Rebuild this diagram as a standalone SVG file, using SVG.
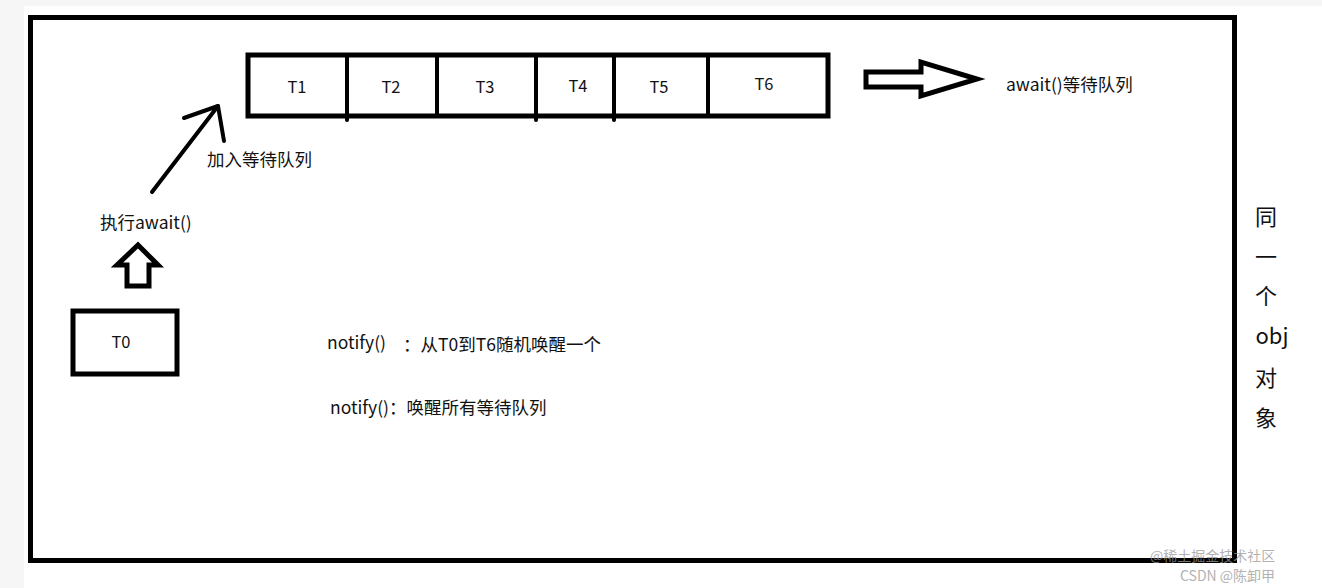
<svg xmlns="http://www.w3.org/2000/svg" width="1322" height="588" viewBox="0 0 1322 588">
<style>
.box{fill:#fff;stroke:#000;stroke-width:5}
.ln{fill:none;stroke:#000;stroke-width:4;stroke-linecap:round;stroke-linejoin:round}
.hollow{fill:#fff;stroke:#000;stroke-width:5;stroke-linejoin:miter}
.t{font-family:"Noto Sans CJK SC","Noto Sans",sans-serif;font-size:17.5px;fill:#111}
.q{font-size:16.5px}
.v{font-family:"Noto Sans CJK SC","Noto Sans",sans-serif;font-size:22px;fill:#111;text-anchor:middle}
.c{text-anchor:middle}
.wm{font-family:"Noto Sans CJK SC","Noto Sans",sans-serif;font-size:14px;fill:#999;opacity:0.75}
</style>
<rect x="0" y="0" width="1322" height="588" fill="#f6f6f6"/>
<rect x="24" y="6" width="1298" height="582" fill="#fff"/>
<g id="frame">
<rect class="box" x="30.5" y="17.5" width="1204" height="543"/>
</g>
<g id="queue">
<rect class="box" x="248" y="55" width="580" height="61" stroke-width="4"/>
<g class="ln" stroke-linecap="butt">
<line x1="347" y1="55" x2="347" y2="120"/>
<line x1="437" y1="55" x2="437" y2="116"/>
<line x1="536" y1="55" x2="536" y2="120"/>
<line x1="614" y1="55" x2="614" y2="120"/>
<line x1="708" y1="55" x2="708" y2="116"/>
</g>
<text class="t q c" x="297" y="93">T1</text>
<text class="t q c" x="391" y="93">T2</text>
<text class="t q c" x="485" y="93">T3</text>
<text class="t q c" x="578" y="92">T4</text>
<text class="t q c" x="659" y="93">T5</text>
<text class="t q c" x="764" y="90">T6</text>
</g>
<g id="t0">
<rect class="box" x="73" y="311" width="104" height="63" stroke-width="4"/>
<text class="t q c" x="121" y="348">T0</text>
</g>
<g id="connectors">
<polygon class="hollow" points="866,72 921,72 921,62 977,79 921,96 921,87 866,87" stroke-width="4.5"/>
<polygon class="hollow" points="127,286 127,265 117,265 138,245 158,265 149,265 149,286" stroke-width="4.5"/>
<polyline class="ln" points="152,192 218,106"/>
<polyline class="ln" points="184,118 218,106 224,141"/>
</g>
<g id="labels">
<text class="t" x="1006" y="91">await()等待队列</text>
<text class="t" x="207" y="166">加入等待队列</text>
<text class="t" x="100" y="229">执行await()</text>
<text class="t" x="327" y="349">notify()</text>
<text class="t" x="403" y="351">：从T0到T6随机唤醒一个</text>
<text class="t" x="330" y="414">notify()：唤醒所有等待队列</text>
</g>
<g id="side-label">
<text class="v" x="1266" y="225">同</text>
<text class="v" x="1266" y="265">一</text>
<text class="v" x="1266" y="304">个</text>
<text class="v" x="1272" y="344">obj</text>
<text class="v" x="1266" y="386">对</text>
<text class="v" x="1266" y="426">象</text>
</g>
<g id="watermark">
<text class="wm" x="1150" y="561">@稀土掘金技术社区</text>
<text class="wm" x="1180" y="581">CSDN @陈卸甲</text>
</g>
</svg>
